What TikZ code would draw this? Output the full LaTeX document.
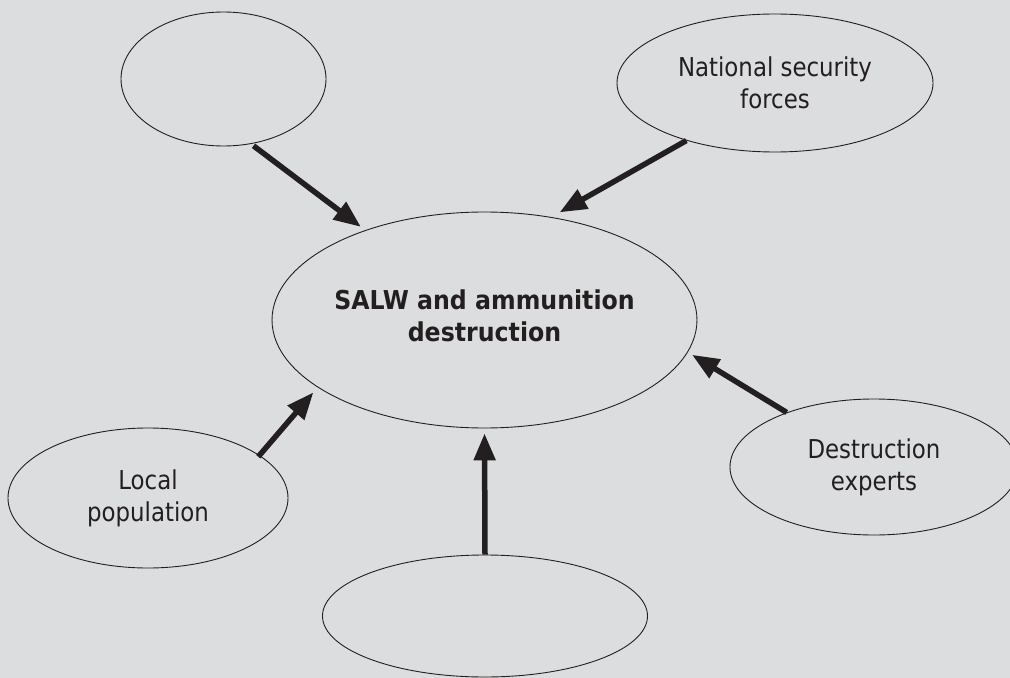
\documentclass[tikz,border=0pt]{standalone}
\usepackage{fontspec}
\newfontfamily\regf{DejaVu Sans}[FakeStretch=0.88]
\newfontfamily\boldf{DejaVu Sans Bold}[FakeStretch=0.91]
\usetikzlibrary{arrows.meta,shapes.geometric}
\definecolor{bg}{RGB}{220,221,222}
\definecolor{ink}{RGB}{35,31,32}
\tikzset{
  oval/.style={draw=ink, line width=0.9bp, ellipse, inner sep=0pt, align=center,
    text=ink, font=\regf\fontsize{26bp}{32bp}\selectfont},
  boldtext/.style={font=\boldf\fontsize{26bp}{32bp}\selectfont},
  arr/.style={draw=ink, line width=5.5bp, -{Triangle[length=27bp, width=21bp]}}
}
\begin{document}
\begin{tikzpicture}[x=1bp, y=-1bp]
\fill[bg] (0,0) rectangle (1010,678);
\useasboundingbox (0,0) rectangle (1010,678);
\node[oval, minimum width=205bp, minimum height=134bp] (tl) at (223.5,79) {};
\node[oval, minimum width=316bp, minimum height=138bp] (nsf) at (775,83) {National security\\forces};
\node[oval, boldtext, text depth=8bp, minimum width=395bp, minimum height=216bp] (c) at (484.5,320) {SALW and ammunition\\destruction};
\node[oval, minimum width=280bp, minimum height=140bp] (lp) at (148,498) {Local\\population};
\node[oval, minimum width=325bp, minimum height=122bp] (bt) at (485,616) {};
\node[oval, minimum width=288bp, minimum height=136bp] (de) at (874,467) {Destruction\\experts};
\draw[arr, shorten <=3bp, shorten >=5.5bp] (tl.-67.6) -- (c.143.7);
\draw[arr, shorten >=9.5bp] (nsf.213.8) -- (c.57.3);
\draw[arr, shorten <=-2bp, shorten >=6.6bp] (lp.21.9) -- (c.202.2);
\draw[arr, shorten >=5bp] (bt.north) -- (c.south);
\draw[arr, shorten >=5bp] (de.148.8) -- (c.-9.7);
\end{tikzpicture}
\end{document}
